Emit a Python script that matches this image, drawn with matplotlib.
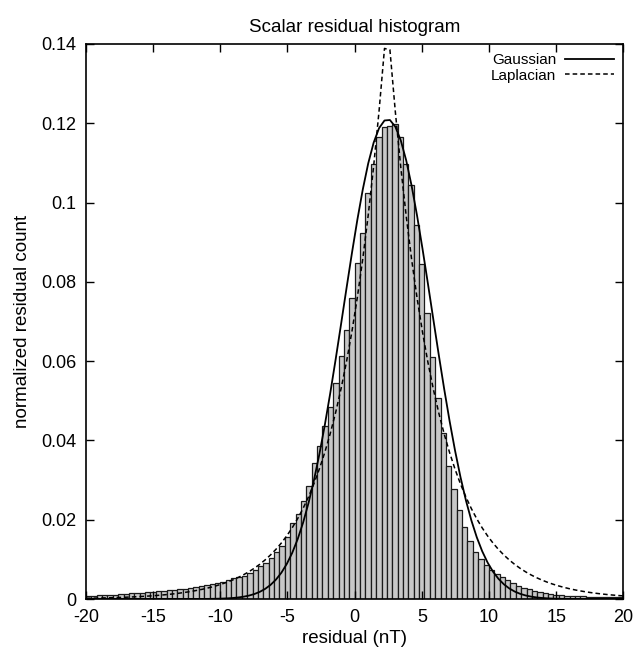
import numpy as np
import matplotlib
matplotlib.use("Agg")
import matplotlib.pyplot as plt

plt.rcParams['font.family'] = ['Liberation Sans', 'DejaVu Sans']

# Histogram bins (width 0.4, from -20 to 20)
bin_edges_start = -20.0
bin_width = 0.4
counts = [
    0.0008, 0.0008, 0.0009, 0.0009, 0.0010, 0.0011, 0.0012, 0.0013, 0.0014, 0.0015,
    0.0016, 0.0017, 0.0018, 0.0019, 0.0020, 0.0022, 0.0023, 0.0024, 0.0026, 0.0028,
    0.0030, 0.0032, 0.0035, 0.0038, 0.0040, 0.0044, 0.0047, 0.0052, 0.0055,
    0.0058, 0.0065, 0.0073, 0.0083, 0.0092, 0.0104, 0.0118, 0.0134, 0.0157, 0.0191,
    0.0214, 0.0247, 0.0286, 0.0342, 0.0387, 0.0437, 0.0485, 0.0544, 0.0614, 0.0678,
    0.0759, 0.0848, 0.0922, 0.1023, 0.1098, 0.1166, 0.1190, 0.1193, 0.1197, 0.1166,
    0.1097, 0.1044, 0.0944, 0.0845, 0.0721, 0.0611, 0.0506, 0.0420, 0.0336, 0.0277,
    0.0225, 0.0181, 0.0147, 0.0119, 0.0100, 0.0085, 0.0072, 0.0062, 0.0055, 0.0048,
    0.0040, 0.0034, 0.0029, 0.0024, 0.0020, 0.0018, 0.0016, 0.0013, 0.0011, 0.0009,
    0.0008, 0.0008, 0.0007, 0.0007, 0.0006, 0.0006, 0.0005, 0.0005, 0.0005, 0.0004,
    0.0004,
]

# Fitted model parameters
gauss_amp = 0.1210
gauss_mu = 2.45
gauss_sigma = 3.28
lap_amp = 0.1473
lap_mu = 2.42
lap_b = 3.36
n_samples = 100  # gnuplot default sampling

x_ticks = [-20, -15, -10, -5, 0, 5, 10, 15, 20]
y_ticks = [0, 0.02, 0.04, 0.06, 0.08, 0.1, 0.12, 0.14]
y_tick_labels = ["0", "0.02", "0.04", "0.06", "0.08", "0.1", "0.12", "0.14"]

fig = plt.figure(figsize=(6.38, 6.56), dpi=100)
ax = fig.add_axes([86/638, 1-599/656, (623.3-86)/638, (599-44)/656])

centers = bin_edges_start + bin_width * (np.arange(len(counts)) + 0.5)
ax.bar(centers, counts, width=bin_width, color='#c8c8c8', edgecolor='#1a1a1a',
       linewidth=0.9, zorder=1)

xs = np.linspace(-20, 20, n_samples)
g = gauss_amp * np.exp(-(xs - gauss_mu)**2 / (2 * gauss_sigma**2))
l = lap_amp * np.exp(-np.abs(xs - lap_mu) / lap_b)
ax.plot(xs, g, color='black', lw=1.3, label='Gaussian', zorder=3)
ax.plot(xs, l, color='black', lw=1.1, ls=(0, (3, 2)), label='Laplacian', zorder=3)

ax.set_xlim(-20, 20)
ax.set_ylim(0, 0.14)
ax.set_xticks(x_ticks)
ax.set_xticklabels([str(t) for t in x_ticks])
ax.set_yticks(y_ticks)
ax.set_yticklabels(y_tick_labels)
ax.tick_params(direction='in', length=6, width=1, top=True, right=True,
               labelsize=13, pad=7)
for s in ax.spines.values():
    s.set_linewidth(1.2)

ax.set_xlabel('residual (nT)', fontsize=13.5, labelpad=3)
ax.set_ylabel('normalized residual count', fontsize=13.5, labelpad=7)
ax.set_title('Scalar residual histogram', fontsize=13.5, pad=9)

leg = ax.legend(loc='upper right', frameon=False, markerfirst=False,
                fontsize=11, handlelength=3.2, handletextpad=0.6,
                borderaxespad=0.2, labelspacing=0.1)

fig.savefig('out.png', dpi=100)
